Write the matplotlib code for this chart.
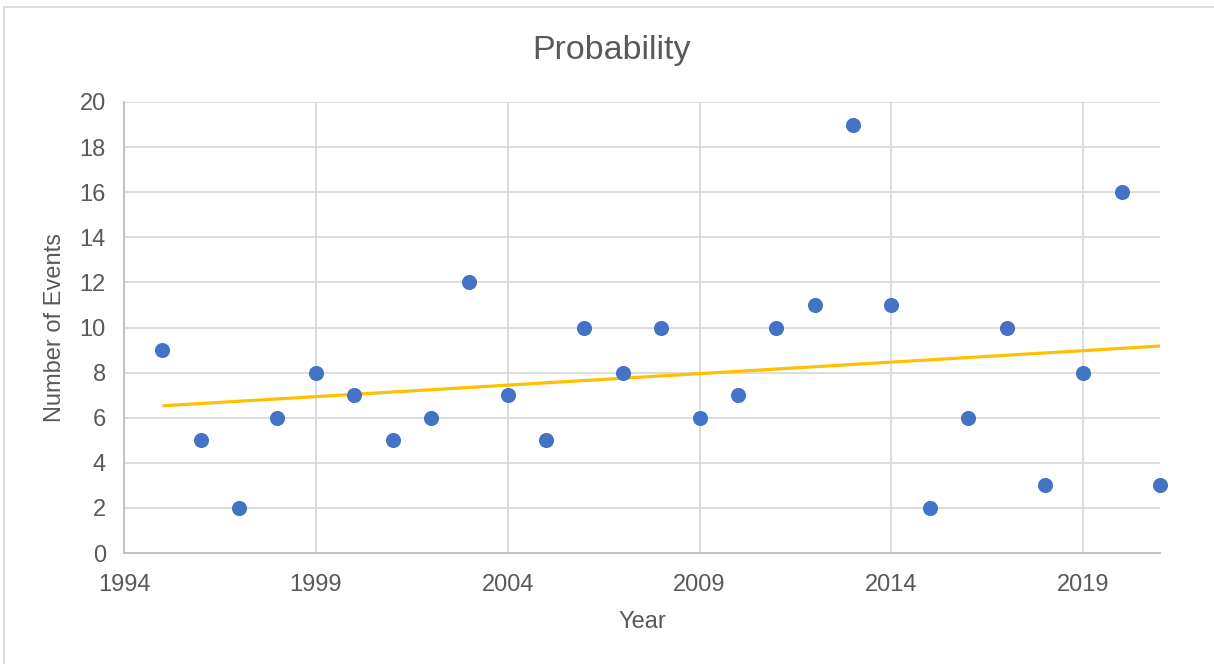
import numpy as np
import matplotlib.pyplot as plt
from matplotlib.lines import Line2D

years = [1995, 1996, 1997, 1998, 1999, 2000, 2001, 2002, 2003, 2004, 2005, 2006, 2007, 2008,
         2009, 2010, 2011, 2012, 2013, 2014, 2015, 2016, 2017, 2018, 2019, 2020, 2021]
events = [9, 5, 2, 6, 8, 7, 5, 6, 12, 7, 5, 10, 8, 10,
          6, 7, 10, 11, 19, 11, 2, 6, 10, 3, 8, 16, 3]
x_ticks = [1994, 1999, 2004, 2009, 2014, 2019]
y_ticks = list(range(0, 21, 2))

TEXT = "#595959"
GRID = "#D9D9D9"
AXIS = "#BFBFBF"
DOT = "#4472C4"
TREND = "#FFC000"

plt.rcParams["font.family"] = ["Liberation Sans", "DejaVu Sans"]

fig = plt.figure(figsize=(12.14, 6.64), dpi=100)
ax = fig.add_axes([124 / 1214, 1 - 553 / 664, (1160 - 124) / 1214, (553 - 102) / 664])

# linear trendline through the yearly counts
slope, icpt = np.polyfit(years, events, 1)
xs = np.array([years[0], years[-1]])
ax.plot(xs, slope * xs + icpt, color=TREND, lw=2.3, zorder=2, solid_capstyle="butt")
ax.scatter(years, events, s=118, color=DOT, zorder=3, linewidths=0, clip_on=False)

ax.set_xlim(1994, 2021)
ax.set_ylim(0, 20)
ax.set_xticks(x_ticks)
ax.set_yticks(y_ticks)
ax.grid(True, color=GRID, lw=1.3)
ax.set_axisbelow(True)
for s in ("top", "right"):
    ax.spines[s].set_visible(False)
for s in ("left", "bottom"):
    ax.spines[s].set_color(AXIS)
    ax.spines[s].set_linewidth(1.3)
ax.tick_params(length=0, labelsize=17, colors=TEXT)
ax.tick_params(axis="x", pad=15)
ax.tick_params(axis="y", pad=13)

ax.set_xlabel("Year", fontsize=17, color=TEXT, labelpad=11)
ax.set_ylabel("Number of Events", fontsize=17, color=TEXT, labelpad=10)
fig.text(0.504, 1 - 50 / 664, "Probability", fontsize=24.5, color=TEXT, ha="center", va="center")

# chart frame (left and top edges)
fig.add_artist(Line2D([4 / 1214, 4 / 1214], [0, 1 - 7 / 664], transform=fig.transFigure, color=GRID, lw=1.3))
fig.add_artist(Line2D([4 / 1214, 1], [1 - 7 / 664, 1 - 7 / 664], transform=fig.transFigure, color=GRID, lw=1.3))

fig.savefig("out.png", dpi=100, facecolor="white")
